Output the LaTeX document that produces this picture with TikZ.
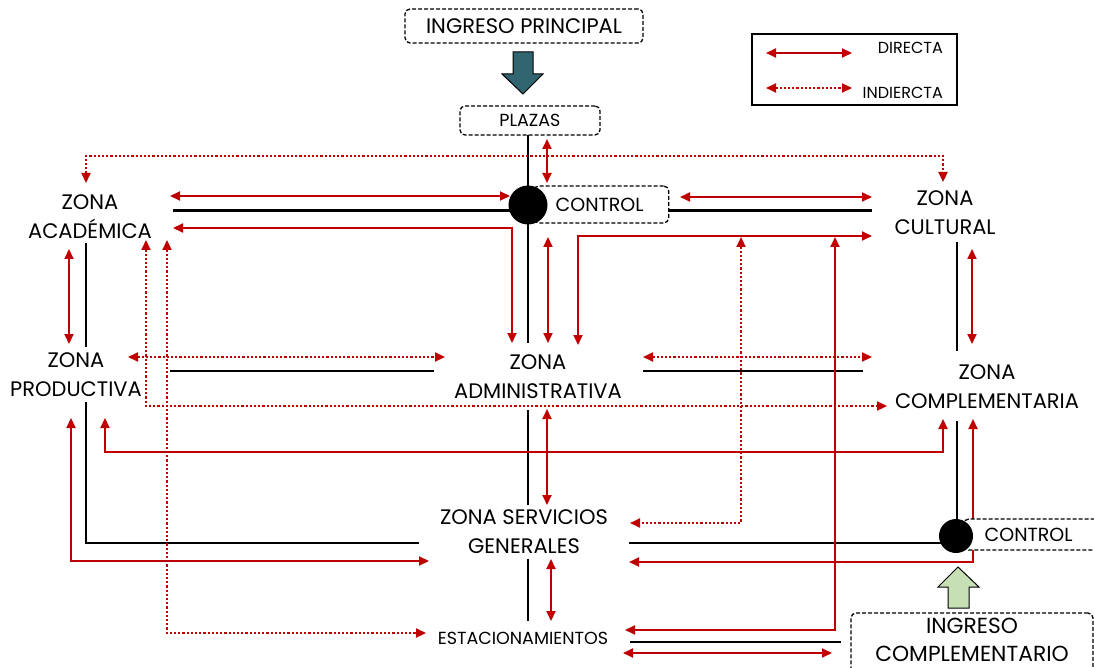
\documentclass[tikz,border=0pt]{standalone}
\usepackage{fontspec}
\setmainfont{Poppins}
\usetikzlibrary{arrows.meta}

\definecolor{linkred}{HTML}{C00000}
\definecolor{entryteal}{HTML}{31656F}
\definecolor{entrygreen}{HTML}{C6E0B4}

\newcommand\zonefont{\fontsize{21}{29}\selectfont}
\newcommand\smallzonefont{\fontsize{17.5}{20}\selectfont}
\newcommand\legendfont{\fontsize{16}{18}\selectfont}
\newcommand\controlfont{\fontsize{19}{22}\selectfont}

\tikzset{
  road/.style={line width=2.6pt, black},
  tipbox/.style={{Triangle[length=10pt,width=9pt]}-{Triangle[length=10pt,width=9pt]}},
  direct/.style={line width=2pt, linkred, tipbox},
  indirect/.style={line width=2.2pt, linkred, dash pattern=on 2.2pt off 2pt, tipbox},
  zone/.style={font=\zonefont, align=center, inner sep=0pt},
  dashbox/.style={draw, fill=white, line width=1.3pt, dash pattern=on 4pt off 2pt,
                  rounded corners=5pt},
  hub/.style={fill=black},
  bigarrow/.style={draw=black, line width=1pt}
}

\begin{document}
\begin{tikzpicture}[x=1pt,y=-1pt]
\useasboundingbox (0,0) rectangle (1094,668);

% ---------- connector end points ----------
\foreach \n/\x/\y in {
  r1a/528/135, r1b/528/343, r2a/528/410, r2b/528/505, r3a/528/559, r3b/528/621,
  r4a/173/210.5, r4b/528/210.5, r5a/668/210.5, r5b/872/210.5,
  r6a/86/243, r6b/86/347, r7a/86/402, r7b/419/543,
  r8a/170/371, r8b/434/371, r9a/643/371, r9b/863/371,
  r10a/957/242, r10b/957/351, r11a/957/421, r11b/957/536,
  r12a/629/543, r12b/956/543, r13a/630/642, r13b/841/642,
  d1a/547/139, d1b/547/183, d2a/170/196, d2b/510/196, d3a/680/197, d3b/872/197,
  d4a/173/228, d4b/512/343, d5a/548/237, d5b/548/343, d6a/578/345, d6b/872/236,
  d7a/835/237, d7b/625/630, d8a/69/249, d8b/69/344, d9a/972/249, d9b/972/344,
  d10a/547/409, d10b/547/505, d11a/551/559, d11b/551/621,
  d12a/105/418, d12c/943/452, d12b/943/419, d13a/71/418, d13b/429/561,
  d14a/629/562, d14b/973/419, d15a/623/653, d15b/832/653,
  i1a/86/183, i1c/86/156, i1d/943/156, i1b/943/182,
  i2a/128/357, i2b/445/357, i3a/643/357, i3b/872/357,
  i4a/146/240, i4b/887/406, i5a/167/240, i5b/426/633, i6a/741/237, i6b/630/523,
  la/766/53, lb/852/53, lc/766/88, ld/852/88}
  \coordinate (\n) at (\x,\y);

% ---------- roads ----------
\draw[road] (r1a) -- (r1b);
\draw[road] (r2a) -- (r2b);
\draw[road] (r3a) -- (r3b);
\draw[road] (r4a) -- (r4b);
\draw[road] (r5a) -- (r5b);
\draw[road] (r6a) -- (r6b);
\draw[road] (r7a) |- (r7b);
\draw[road] (r8a) -- (r8b);
\draw[road] (r9a) -- (r9b);
\draw[road] (r10a) -- (r10b);
\draw[road] (r11a) -- (r11b);
\draw[road] (r12a) -- (r12b);
\draw[road] (r13a) -- (r13b);

% ---------- direct links ----------
\draw[direct] (d1a) -- (d1b);
\draw[direct] (d2a) -- (d2b);
\draw[direct] (d3a) -- (d3b);
\draw[direct] (d4a) -| (d4b);
\draw[direct] (d5a) -- (d5b);
\draw[direct] (d6a) |- (d6b);
\draw[direct] (d7a) |- (d7b);
\draw[direct] (d8a) -- (d8b);
\draw[direct] (d9a) -- (d9b);
\draw[direct] (d10a) -- (d10b);
\draw[direct] (d11a) -- (d11b);
\draw[direct] (d12a) |- (d12c) -- (d12b);
\draw[direct] (d13a) |- (d13b);
\draw[direct] (d14a) -| (d14b);
\draw[direct] (d15a) -- (d15b);

% ---------- indirect links ----------
\draw[indirect] (i1a) -- (i1c) -- (i1d) -- (i1b);
\draw[indirect] (i2a) -- (i2b);
\draw[indirect] (i3a) -- (i3b);
\draw[indirect] (i4a) |- (i4b);
\draw[indirect] (i5a) |- (i5b);
\draw[indirect] (i6a) |- (i6b);

% ---------- entrances and control points ----------
\node[dashbox, font=\fontsize{21}{24}\selectfont, minimum width=238pt, minimum height=34pt]
  (ingp) at (524,26) {INGRESO PRINCIPAL};
\node[dashbox, font=\smallzonefont, minimum width=140pt, minimum height=29pt]
  (plazas) at (530,120.5) {PLAZAS};

\node[dashbox, font=\controlfont, anchor=west, inner xsep=22pt,
      text width=91pt, align=left, minimum height=37pt]
  (ctrla) at (533,204.5) {CONTROL};
\node[dashbox, font=\controlfont, anchor=west, inner xsep=21pt,
      text width=130pt, align=left, minimum height=31pt]
  (ctrlb) at (963,534.5) {CONTROL};

\fill[hub] (528,205) circle (19.5);
\fill[hub] (956,536) circle (17);

\draw[bigarrow, fill=entryteal]
  (513,52) -- (533,52) -- (533,74) -- (543,74) -- (523,94) -- (502,74) -- (513,74) -- cycle;
\draw[bigarrow, fill=entrygreen]
  (948,608) -- (969,608) -- (969,587) -- (979,587) -- (958,567) -- (938,587) -- (948,587) -- cycle;

\node[dashbox, minimum width=242pt, minimum height=88pt] (ingcbox) at (972,657) {};
\node[zone, font=\fontsize{21.8}{28}\selectfont] (ingc) at (972,640) {INGRESO\\COMPLEMENTARIO};

% ---------- zones ----------
\node[zone] (aca) at (90,217) {ZONA\\ACADÉMICA};
\node[zone] (pro) at (76,375) {ZONA\\PRODUCTIVA};
\node[zone] (adm) at (538,377) {ZONA\\ADMINISTRATIVA};
\node[zone] (cul) at (945,213) {ZONA\\CULTURAL};
\node[zone] (com) at (987,387) {ZONA\\COMPLEMENTARIA};
\node[zone] (ser) at (524,532) {ZONA SERVICIOS\\GENERALES};
\node[zone, font=\smallzonefont] (est) at (523,638) {ESTACIONAMIENTOS};

% ---------- legend ----------
\node[draw, line width=1.3pt, minimum width=205pt, minimum height=71pt] (legend) at (854.5,69.5) {};
\node[font=\legendfont, anchor=east, inner sep=0pt] (ldir) at (943,48) {DIRECTA};
\node[font=\legendfont, anchor=east, inner sep=0pt] (lind) at (943,93) {INDIERCTA};
\draw[direct] (la) -- (lb);
\draw[indirect] (lc) -- (ld);

\end{tikzpicture}
\end{document}
